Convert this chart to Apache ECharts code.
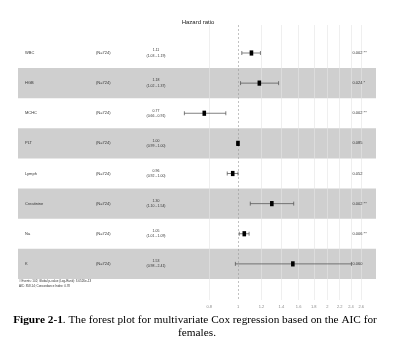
<!DOCTYPE html>
<html>
<head>
<meta charset="utf-8">
<script src="https://cdn.jsdelivr.net/npm/echarts@6/dist/echarts.min.js"></script>
<style>html,body{margin:0;padding:0;background:#fff;}#c{width:396px;height:347px;}</style>
</head>
<body>
<div id="c"></div>
<script>
const variables = ['WBC', 'HGB', 'MCHC', 'PLT', 'Lymph', 'Creatinine', 'Na', 'K'];
const nLabels = ['(N=724)', '(N=724)', '(N=724)', '(N=724)', '(N=724)', '(N=724)', '(N=724)', '(N=724)'];
const hazard = [1.11, 1.18, 0.77, 1.00, 0.96, 1.30, 1.05, 1.53];
const lower = [1.03, 1.02, 0.66, 0.99, 0.92, 1.10, 1.01, 0.98];
const upper = [1.19, 1.37, 0.91, 1.00, 1.00, 1.54, 1.09, 2.41];
const pValues = ['0.002 **', '0.024 *', '0.002 **', '0.085', '0.052', '0.002 **', '0.006 **', '0.060'];
const tickValues = [0.8, 1, 1.2, 1.4, 1.6, 1.8, 2, 2.2, 2.4, 2.6];
const footer = ['# Events: 102; Global p-value (Log-Rank): 3.6526e-13', 'AIC: 858.14; Concordance Index: 0.78'];

const rows = variables.map((v, i) => [hazard[i], i + 1, lower[i], upper[i]]);
const bandRows = variables.map((v, i) => i + 1).filter(r => r % 2 === 0);

const chart = echarts.init(document.getElementById('c'), null, {renderer: 'canvas'});
const txt = '#333';
chart.setOption({
  animation: false,
  backgroundColor: '#fff',
  title: {
    text: 'Hazard ratio', left: 'center', top: 14,
    textStyle: {fontSize: 6, fontWeight: 'normal', color: '#222', fontFamily: 'Liberation Sans'}
  },
  grid: {left: 18, right: 20, top: 25, bottom: 47},
  xAxis: {
    type: 'log', logBase: 10, min: 0.1817, max: 2.915,
    axisLine: {show: false},
    axisTick: {show: false, customValues: tickValues},
    splitLine: {show: false},
    axisLabel: {
      customValues: tickValues, margin: 5, fontSize: 4, color: '#888', fontFamily: 'Liberation Sans',
      formatter: v => String(+(+v).toFixed(1))
    }
  },
  yAxis: {
    type: 'value', inverse: true, min: 0.0705, max: 9.199,
    show: false
  },
  series: [
    {
      type: 'custom', z: -1, silent: true,
      data: bandRows,
      encode: {y: 0},
      renderItem(params, api) {
        const r = api.value(0);
        const cs = params.coordSys;
        const y0 = api.coord([1, r - 0.5])[1];
        const y1 = api.coord([1, r + 0.5])[1];
        return {type: 'rect', shape: {x: cs.x, y: y0, width: cs.width, height: y1 - y0}, style: {fill: '#cfcfcf'}};
      },
      markLine: {
        silent: true, symbol: 'none', z: 1,
        label: {show: false},
        lineStyle: {color: '#e4e4e4', width: 0.6, type: 'solid'},
        data: tickValues.map(t => t === 1
          ? {xAxis: t, lineStyle: {color: '#9a9a9a', type: [2, 2], width: 0.6}}
          : {xAxis: t})
      }
    },
    {
      type: 'custom', z: 2, silent: true,
      data: rows.map((r, i) => [r[0], r[1], i]),
      encode: {x: 0, y: 1},
      renderItem(params, api) {
        const i = api.value(2);
        const y = api.coord([1, api.value(1)])[1];
        const f = 'Liberation Sans';
        return {
          type: 'group',
          children: [
            {type: 'text', style: {x: 25, y: y, text: variables[i], fontSize: 4, fill: txt, font: '4px ' + f, textVerticalAlign: 'middle'}},
            {type: 'text', style: {x: 96, y: y, text: nLabels[i], fontSize: 4, fill: txt, font: '4px ' + f, textVerticalAlign: 'middle'}},
            {type: 'text', style: {x: 156, y: y - 2.6, text: hazard[i].toFixed(2), fontSize: 3.5, fill: txt, font: '3.5px ' + f, textAlign: 'center', textVerticalAlign: 'middle'}},
            {type: 'text', style: {x: 156, y: y + 2.6, text: '(' + lower[i].toFixed(2) + ' - ' + upper[i].toFixed(2) + ')', fontSize: 3.5, fill: txt, font: '3.5px ' + f, textAlign: 'center', textVerticalAlign: 'middle'}},
            {type: 'text', style: {x: 352.5, y: y, text: pValues[i], fontSize: 4, fill: txt, font: '4px ' + f, textVerticalAlign: 'middle'}}
          ]
        };
      }
    },
    {
      type: 'custom', z: 3, silent: true,
      data: rows,
      encode: {x: 0, y: 1},
      renderItem(params, api) {
        const r = api.value(1);
        const pc = api.coord([api.value(0), r]);
        const pl = api.coord([api.value(2), r]);
        const ph = api.coord([api.value(3), r]);
        const ls = {stroke: '#4a4a4a', lineWidth: 0.7};
        const cap = 2;
        return {
          type: 'group',
          children: [
            {type: 'line', shape: {x1: pl[0], y1: pc[1], x2: ph[0], y2: pc[1]}, style: ls},
            {type: 'line', shape: {x1: pl[0], y1: pc[1] - cap, x2: pl[0], y2: pc[1] + cap}, style: ls},
            {type: 'line', shape: {x1: ph[0], y1: pc[1] - cap, x2: ph[0], y2: pc[1] + cap}, style: ls},
            {type: 'rect', shape: {x: pc[0] - 1.8, y: pc[1] - 2.6, width: 3.6, height: 5.2}, style: {fill: '#000'}}
          ]
        };
      }
    }
  ],
  graphic: [
    {type: 'text', left: 19, top: 280, style: {text: footer[0], font: '3px Liberation Sans', fill: txt}},
    {type: 'text', left: 19, top: 284.5, style: {text: footer[1], font: '3px Liberation Sans', fill: txt}},
    {
      type: 'text', x: 195, y: 320,
      style: {
        text: '{b|Figure 2-1}. The forest plot for multivariate Cox regression based on the AIC for',
        rich: {b: {fontWeight: 'bold', fontFamily: 'Liberation Serif', fontSize: 11.3, fill: '#000'}},
        fontFamily: 'Liberation Serif', fontSize: 11.3, fill: '#000', align: 'center', verticalAlign: 'middle'
      }
    },
    {
      type: 'text', x: 197, y: 333.5,
      style: {text: 'females.', fontFamily: 'Liberation Serif', fontSize: 11.3, fill: '#000', align: 'center', verticalAlign: 'middle'}
    }
  ]
});
</script>
</body>
</html>
